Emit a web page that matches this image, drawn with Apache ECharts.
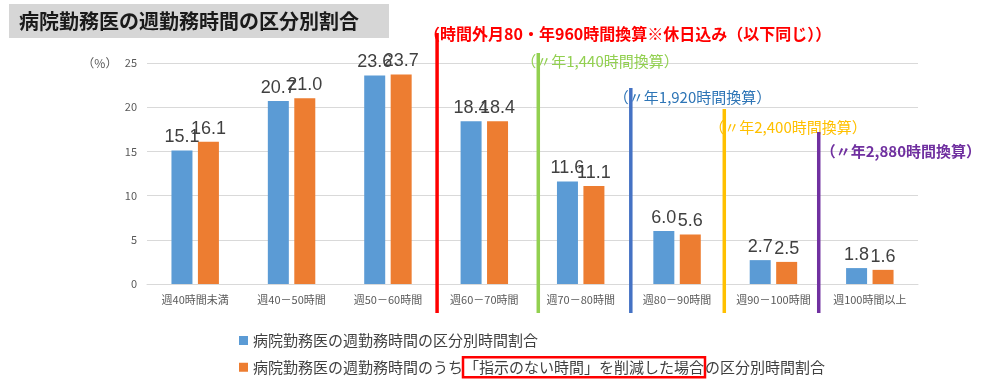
<!DOCTYPE html>
<html>
<head>
<meta charset="utf-8">
<script src="https://cdn.jsdelivr.net/npm/echarts@6/dist/echarts.min.js"></script>
<style>html,body{margin:0;padding:0;background:#fff;}#c{width:1000px;height:381px;}</style>
</head>
<body>
<div id="c"></div>
<script>
const categories = ['週40時間未満','週40－50時間','週50－60時間','週60－70時間','週70－80時間','週80－90時間','週90－100時間','週100時間以上'];
const seriesNames = ['病院勤務医の週勤務時間の区分別時間割合','病院勤務医の週勤務時間のうち「指示のない時間」を削減した場合の区分別時間割合'];
const actual = [15.1, 20.7, 23.6, 18.4, 11.6, 6.0, 2.7, 1.8];
const reduced = [16.1, 21.0, 23.7, 18.4, 11.1, 5.6, 2.5, 1.6];
const yTicks = [0, 5, 10, 15, 20, 25];
const titleText = '病院勤務医の週勤務時間の区分別割合';
// threshold annotations: position in category-edge units
const thresholdPos = [3.01, 4.06, 5.02, 5.99, 6.97];
const thresholdTexts = ['（時間外月80・年960時間換算※休日込み（以下同じ））','（〃年1,440時間換算）','（〃年1,920時間換算）','（〃年2,400時間換算）','（〃年2,880時間換算）'];

const FONT = '"Noto Sans CJK JP", "Noto Sans", sans-serif';
const chart = echarts.init(document.getElementById('c'));

const option = {
  animation: false,
  textStyle: { fontFamily: FONT },
  title: {
    text: titleText,
    left: 9, top: 4,
    backgroundColor: '#d6d6d6',
    padding: [7, 30, 7, 10],
    textStyle: { fontSize: 20, fontWeight: 'bold', color: '#1a1a1a', fontFamily: FONT }
  },
  grid: { left: 147, right: 82, top: 63, bottom: 97 },
  legend: {
    orient: 'vertical',
    left: 234, top: 328, height: 120, width: 700,
    itemWidth: 9, itemHeight: 9, itemGap: 8,
    icon: 'rect',
    data: seriesNames,
    formatter: function (name) {
      if (name === seriesNames[1]) {
        return '病院勤務医の週勤務時間のうち{box|「指示のない時間」を削減した場合}の区分別時間割合';
      }
      return name;
    },
    textStyle: {
      fontSize: 15, color: '#404040', fontFamily: FONT,
      rich: {
        box: { fontSize: 15, color: '#404040', fontFamily: FONT, borderColor: '#ff0000', borderWidth: 2.5, padding: [3, 1, 2, 1] }
      }
    }
  },
  xAxis: {
    type: 'category',
    data: categories,
    axisLine: { lineStyle: { color: '#d9d9d9' } },
    axisTick: { show: false },
    axisLabel: { color: '#595959', fontSize: 11, margin: 10, interval: 0, fontFamily: FONT }
  },
  yAxis: {
    type: 'value',
    min: yTicks[0], max: yTicks[yTicks.length - 1], interval: 5,
    splitLine: { lineStyle: { color: '#d9d9d9' } },
    axisLine: { show: false },
    axisTick: { show: false },
    axisLabel: {
      color: '#595959', fontSize: 11, margin: 10, fontFamily: FONT,
      formatter: function (v) { return v === 25 ? '{u|（%）}   ' + v : String(v); },
      rich: { u: { color: '#595959', fontSize: 12, fontFamily: FONT } }
    }
  },
  series: [
    {
      name: seriesNames[0], type: 'bar', data: actual,
      barWidth: 21, barGap: '26%',
      itemStyle: { color: '#5b9bd5' },
      label: { show: true, position: 'top', distance: 4, fontSize: 18, color: '#404040', fontFamily: '"Liberation Sans", sans-serif', formatter: function (p) { return p.value.toFixed(1); } }
    },
    {
      name: seriesNames[1], type: 'bar', data: reduced,
      barWidth: 21,
      itemStyle: { color: '#ed7d31' },
      label: { show: true, position: 'top', distance: 4, fontSize: 18, color: '#404040', fontFamily: '"Liberation Sans", sans-serif', formatter: function (p) { return p.value.toFixed(1); } }
    }
  ]
};
chart.setOption(option);

// annotation lines, placed using the category axis scale
const c0 = chart.convertToPixel({ xAxisIndex: 0 }, 0);
const c1 = chart.convertToPixel({ xAxisIndex: 0 }, 1);
const band = c1 - c0;
const lineColors = ['#ff0000', '#92d050', '#4472c4', '#ffc000', '#7030a0'];
const lineTops = [33, 53, 88, 109, 132];
const textDx = [-13, -17, -17, -15, 2];
const textY = [35, 62, 98, 128, 152];
const textColors = ['#ff0000', '#92d050', '#2e75b6', '#ffc000', '#7030a0'];
const textWeights = ['bold', 'normal', 'normal', 'normal', 'bold'];
const textSizes = [16, 15, 15, 15, 15];
const graphics = [];
thresholdPos.forEach(function (p, i) {
  const x = c0 + (p - 0.5) * band;
  graphics.push({
    type: 'text', left: x + textDx[i], top: textY[i] - textSizes[i] / 2 - 1, z: 9,
    style: { text: thresholdTexts[i], fill: textColors[i], font: textWeights[i] + ' ' + textSizes[i] + 'px ' + FONT }
  });
  graphics.push({
    type: 'line', z: 10,
    shape: { x1: x, y1: lineTops[i], x2: x, y2: 313 },
    style: { stroke: lineColors[i], lineWidth: 3.5 }
  });
});
chart.setOption({ graphic: graphics });
</script>
</body>
</html>
